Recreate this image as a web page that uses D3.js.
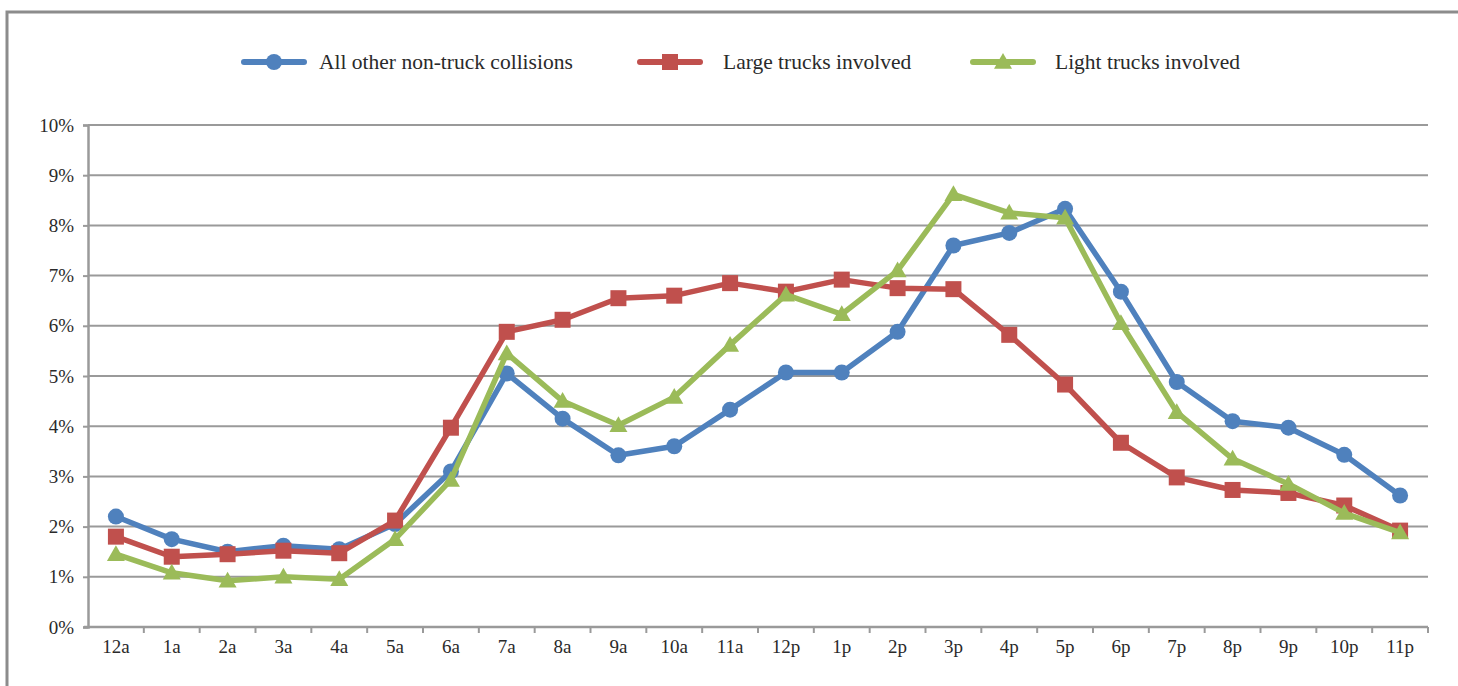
<!DOCTYPE html>
<html>
<head>
<meta charset="utf-8">
<script src="https://cdn.jsdelivr.net/npm/d3@7"></script>
<style>
  html, body { margin: 0; padding: 0; background: #fff; }
  svg { display: block; }
  text { font-family: "Liberation Serif", "DejaVu Serif", serif; fill: #2a2a2a; }
</style>
</head>
<body>
<svg id="chart" width="1458" height="686"></svg>
<script>
// Hour-of-day categories
const hours = ["12a","1a","2a","3a","4a","5a","6a","7a","8a","9a","10a","11a",
               "12p","1p","2p","3p","4p","5p","6p","7p","8p","9p","10p","11p"];

// Share of collisions by hour (%)
const otherCollisions = [2.2, 1.75, 1.5, 1.62, 1.55, 2.05, 3.1, 5.05, 4.15, 3.42, 3.6, 4.33,
                         5.07, 5.07, 5.88, 7.6, 7.85, 8.33, 6.68, 4.88, 4.1, 3.97, 3.43, 2.62];
const largeTrucks     = [1.8, 1.4, 1.45, 1.52, 1.47, 2.12, 3.97, 5.88, 6.12, 6.55, 6.6, 6.85,
                         6.68, 6.92, 6.75, 6.73, 5.82, 4.83, 3.67, 2.98, 2.73, 2.67, 2.42, 1.92];
const lightTrucks     = [1.45, 1.08, 0.92, 1.0, 0.95, 1.75, 2.93, 5.45, 4.5, 4.02, 4.58, 5.62,
                         6.62, 6.23, 7.1, 8.62, 8.25, 8.15, 6.05, 4.28, 3.35, 2.85, 2.27, 1.88];

const seriesNames = ["All other non-truck collisions", "Large trucks involved", "Light trucks involved"];
const yTicks = [0,1,2,3,4,5,6,7,8,9,10];

const series = [
  { name: seriesNames[0], values: otherCollisions, color: "#4F81BD", marker: "circle" },
  { name: seriesNames[1], values: largeTrucks,     color: "#C0504D", marker: "square" },
  { name: seriesNames[2], values: lightTrucks,     color: "#9BBB59", marker: "triangle" }
];

const svg = d3.select("#chart");
const plotLeft = 88, plotRight = 1428, plotTop = 125, plotBottom = 627;

const x = d3.scaleBand().domain(hours).range([plotLeft, plotRight]).paddingInner(0).paddingOuter(0);
const y = d3.scaleLinear().domain([0, 10]).range([plotBottom, plotTop]);

// outer frame
svg.append("rect")
  .attr("x", 7).attr("y", 12).attr("width", 1470).attr("height", 700)
  .attr("fill", "none").attr("stroke", "#8c8c8c").attr("stroke-width", 3);

const gridColor = "#9a9a9a";

// horizontal gridlines
svg.append("g").selectAll("line").data(yTicks.filter(d => d > 0)).join("line")
  .attr("x1", plotLeft).attr("x2", plotRight)
  .attr("y1", d => y(d)).attr("y2", d => y(d))
  .attr("stroke", gridColor).attr("stroke-width", 2);

// y axis
const yAxis = svg.append("g").attr("transform", `translate(${plotLeft},0)`)
  .call(d3.axisLeft(y).tickValues(yTicks).tickFormat(d => d + "%").tickSize(5).tickPadding(9));
yAxis.select(".domain").attr("stroke", gridColor).attr("stroke-width", 2.5);
yAxis.selectAll(".tick line").attr("stroke", gridColor).attr("stroke-width", 2);
yAxis.selectAll("text").attr("font-size", 19).attr("font-family", "Liberation Serif, serif").attr("fill", "#2a2a2a");

// x axis with ticks at category boundaries
const xAxis = svg.append("g").attr("transform", `translate(0,${plotBottom})`)
  .call(d3.axisBottom(x).tickSize(0).tickPadding(13));
xAxis.select(".domain").remove();
xAxis.selectAll("text").attr("font-size", 19).attr("font-family", "Liberation Serif, serif").attr("fill", "#2a2a2a");
svg.append("line").attr("x1", plotLeft - 4).attr("x2", plotRight)
  .attr("y1", plotBottom).attr("y2", plotBottom)
  .attr("stroke", gridColor).attr("stroke-width", 2.5);
const bounds = hours.map(h => x(h)).concat([x(hours[hours.length - 1]) + x.bandwidth()]);
svg.append("g").selectAll("line").data(bounds.slice(1)).join("line")
  .attr("x1", d => d).attr("x2", d => d)
  .attr("y1", plotBottom).attr("y2", plotBottom + 6)
  .attr("stroke", gridColor).attr("stroke-width", 2);

const cx = h => x(h) + x.bandwidth() / 2;

function drawMarker(g, type, color, px, py) {
  if (type === "circle") {
    g.append("circle").attr("cx", px).attr("cy", py).attr("r", 8).attr("fill", color);
  } else if (type === "square") {
    g.append("rect").attr("x", px - 8).attr("y", py - 8).attr("width", 16).attr("height", 16).attr("fill", color);
  } else {
    const s = 9;
    g.append("path")
      .attr("d", `M${px},${py - s}L${px + s},${py + s * 0.75}L${px - s},${py + s * 0.75}Z`)
      .attr("fill", color);
  }
}

const line = d3.line().x(d => cx(d.h)).y(d => y(d.v));

series.forEach(s => {
  const pts = hours.map((h, i) => ({ h, v: s.values[i] }));
  const g = svg.append("g").attr("class", "series");
  g.append("path").datum(pts).attr("d", line)
    .attr("fill", "none").attr("stroke", s.color).attr("stroke-width", 5.5)
    .attr("stroke-linejoin", "round").attr("stroke-linecap", "round");
  pts.forEach(p => drawMarker(g, s.marker, s.color, cx(p.h), y(p.v)));
});

// legend
const legendPos = [
  { lx: 244, tx: 319 },
  { lx: 640, tx: 723 },
  { lx: 973, tx: 1055 }
];
const ly = 62;
series.forEach((s, i) => {
  const g = svg.append("g");
  const p = legendPos[i];
  g.append("line").attr("x1", p.lx).attr("x2", p.lx + 60).attr("y1", ly).attr("y2", ly)
    .attr("stroke", s.color).attr("stroke-width", 6).attr("stroke-linecap", "round");
  drawMarker(g, s.marker, s.color, p.lx + 30, ly);
  g.append("text").attr("x", p.tx).attr("y", ly + 7)
    .attr("font-size", 21.5).text(s.name);
});
</script>
</body>
</html>
